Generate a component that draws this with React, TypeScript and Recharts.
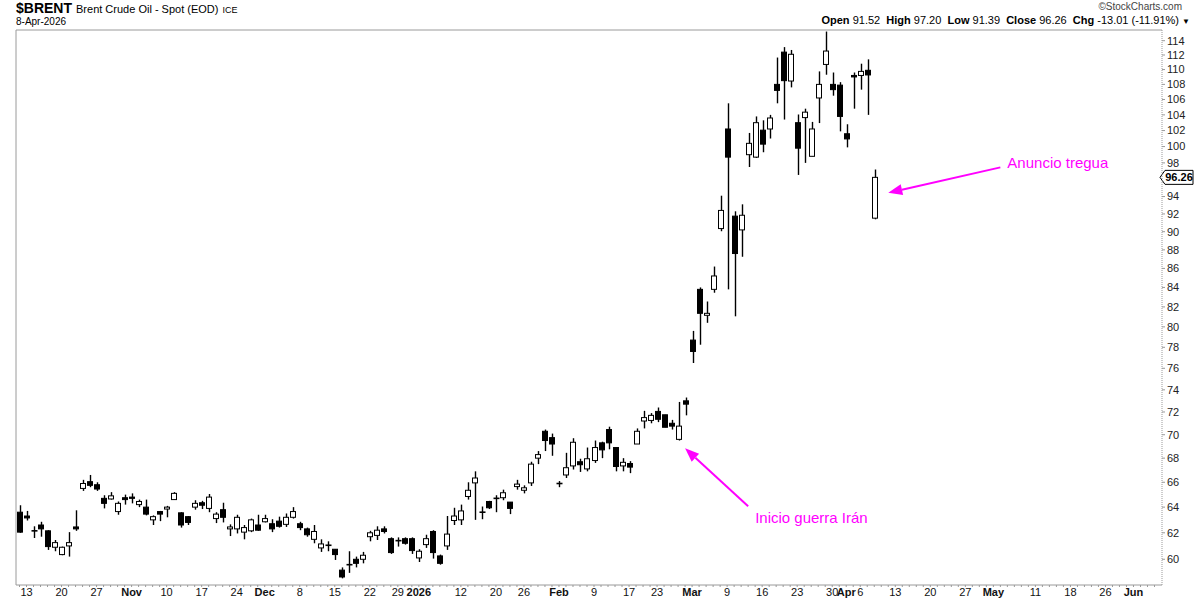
import React from 'react';
import { ComposedChart, Bar, XAxis, YAxis, ReferenceLine } from 'recharts';

// ---------- dias de pregão (eixo X) ----------
const FIRST_DAY = '2025-10-10';
const LAST_DAY = '2026-06-04';
const HOLIDAYS = ['2025-11-27', '2025-12-25', '2026-01-01', '2026-01-19', '2026-02-16', '2026-04-03', '2026-05-25'];

// ---------- OHLC diário (10-Oct-2025 .. 8-Apr-2026) ----------
const OPEN = [
  63.6, 63.3, 62.15, 62.6, 62.15, 60.9, 60.35, 61.0, 62.45, 65.5, 66.05, 65.8, 64.7, 64.65, 63.65, 64.75,
  64.8, 64.2, 64.0, 63.0, 63.65, 63.85, 64.6, 63.55, 63.25, 64.0, 64.35, 63.9, 63.1, 63.8, 62.3, 62.3, 62.05, 62.15, 62.6,
  62.85, 62.7, 62.9, 62.65, 63.2, 62.7, 62.3, 61.5, 60.85, 61.05, 60.75, 59.2, 59.6, 60.0, 60.0, 61.7, 61.8, 62.3, 61.55, 61.4, 61.55, 61.55,
  60.1, 61.1, 62.1, 60.25, 61.0, 62.95, 63.0, 64.85, 65.95, 63.6, 64.45, 64.7, 64.75, 64.4, 65.65, 65.35, 65.95, 68.0, 70.3, 69.75,
  65.9, 66.6, 67.35, 67.7, 67.1, 67.8, 69.3, 70.45, 68.9, 67.35, 67.55, 69.2, 71.2, 71.25, 72.05, 71.75, 71.0, 69.6, 73.0,
  78.7, 83.8, 81.15, 83.8, 90.35, 102.2, 91.75, 90.2, 99.0, 98.7, 102.05, 102.2, 108.0, 112.4, 108.45, 103.0, 103.65, 98.8, 106.2, 110.7, 108.0, 107.9,
  101.6, 109.2, 109.2, 109.9, 91.52,
];
const HIGH = [
  64.15, 63.7, 62.5, 62.85, 62.2, 61.45, 60.95, 62.05, 63.75, 66.2, 66.6, 66.0, 64.95, 65.2, 64.45, 65.0,
  65.1, 64.6, 64.6, 63.35, 63.7, 64.1, 65.2, 63.6, 63.3, 64.55, 64.5, 65.05, 63.6, 64.35, 62.65, 63.4, 62.6, 63.1, 63.4,
  63.4, 63.05, 63.25, 63.5, 64.0, 62.85, 62.4, 62.6, 61.5, 61.35, 60.75, 59.4, 60.6, 60.2, 60.55, 62.15, 62.5, 62.5, 61.65, 61.65, 61.65, 61.65,
  60.75, 61.85, 62.2, 60.35, 63.3, 63.95, 64.2, 66.0, 66.9, 64.05, 64.5, 64.95, 65.4, 64.4, 66.2, 65.75, 67.7, 68.6, 70.45, 70.1,
  66.1, 68.45, 69.7, 67.95, 68.9, 69.5, 69.4, 70.7, 68.9, 68.0, 67.75, 70.55, 72.1, 71.9, 72.4, 71.75, 71.3, 72.9, 73.3,
  79.6, 84.0, 82.55, 86.2, 94.1, 105.5, 92.3, 93.1, 101.7, 103.8, 103.3, 104.0, 111.65, 113.1, 112.7, 104.05, 104.8, 103.1, 109.75, 115.3, 109.6, 108.3,
  102.8, 109.6, 110.8, 111.4, 97.2,
];
const LOW = [
  62.0, 62.95, 61.6, 61.7, 60.7, 60.6, 60.3, 60.2, 62.15, 65.3, 65.6, 65.3, 63.9, 64.6, 63.4, 64.2,
  64.3, 64.0, 63.35, 62.6, 62.9, 63.2, 64.6, 62.4, 62.6, 63.8, 63.85, 63.6, 62.75, 62.8, 61.75, 61.95, 61.5, 62.05, 62.15,
  62.8, 62.05, 62.4, 62.45, 63.1, 62.2, 61.7, 61.2, 60.55, 60.6, 59.95, 58.6, 59.0, 59.4, 59.7, 61.35, 61.45, 61.95, 60.4, 60.95, 61.1, 60.4,
  59.8, 60.85, 60.05, 59.6, 60.7, 62.6, 62.6, 64.6, 63.0, 63.05, 63.85, 63.6, 64.55, 63.45, 65.4, 65.1, 65.7, 67.5, 68.6, 68.2,
  65.6, 66.35, 67.05, 66.85, 66.9, 67.6, 68.0, 68.75, 66.9, 66.9, 66.75, 69.2, 70.55, 71.0, 71.1, 70.65, 70.45, 69.5, 71.7,
  76.5, 78.25, 80.4, 83.45, 90.05, 83.8, 81.05, 87.25, 97.5, 98.6, 99.3, 101.0, 105.5, 103.4, 107.6, 96.55, 98.0, 98.8, 102.95, 109.3, 106.5, 101.9,
  99.9, 104.8, 107.3, 104.0, 91.39,
];
const CLOSE = [
  62.05, 63.15, 62.15, 62.3, 60.95, 61.25, 60.9, 61.25, 62.3, 65.9, 65.75, 65.45, 64.3, 64.9, 64.3, 64.6,
  64.7, 64.45, 63.45, 63.25, 63.45, 64.0, 65.1, 62.6, 62.8, 64.3, 64.15, 64.8, 63.45, 63.2, 62.45, 63.2, 62.4, 63.0, 62.2,
  63.1, 62.3, 62.5, 63.2, 63.65, 62.4, 61.85, 62.1, 61.15, 61.05, 60.35, 58.7, 59.6, 59.7, 60.3, 62.0, 62.2, 62.1, 60.5, 61.4, 61.2, 60.65,
  60.6, 61.55, 60.5, 59.7, 61.9, 63.3, 63.7, 65.35, 66.35, 63.6, 63.95, 64.7, 65.15, 63.9, 65.85, 65.55, 67.5, 68.3, 69.5, 69.2,
  65.9, 67.2, 69.35, 67.45, 67.95, 68.9, 68.7, 69.3, 67.3, 67.65, 67.25, 70.3, 71.5, 71.7, 71.35, 70.65, 70.75, 70.75, 72.7,
  77.6, 81.35, 81.35, 85.2, 92.4, 98.7, 87.6, 91.85, 100.4, 103.0, 100.3, 103.6, 107.2, 108.5, 112.1, 99.8, 104.35, 102.2, 108.0, 112.55, 107.3, 103.8,
  100.95, 109.0, 109.75, 109.27, 96.26,
];

// ---------- rótulos do eixo X ----------
const TICK_DATES = [
  '2025-10-13', '2025-10-20', '2025-10-27', '2025-11-03', '2025-11-10', '2025-11-17', '2025-11-24', '2025-12-01',
  '2025-12-08', '2025-12-15', '2025-12-22', '2025-12-29', '2026-01-02', '2026-01-12', '2026-01-20', '2026-01-26',
  '2026-02-02', '2026-02-09', '2026-02-17', '2026-02-23', '2026-03-02', '2026-03-09', '2026-03-16', '2026-03-23',
  '2026-03-30', '2026-04-01', '2026-04-06', '2026-04-13', '2026-04-20', '2026-04-27', '2026-05-01', '2026-05-11',
  '2026-05-18', '2026-05-26', '2026-06-01',
];
const TICK_LABELS = [
  '13', '20', '27', 'Nov', '10', '17', '24', 'Dec', '8', '15', '22', '29', '2026', '12', '20', '26',
  'Feb', '9', '17', '23', 'Mar', '9', '16', '23', '30', 'Apr', '6', '13', '20', '27', 'May', '11',
  '18', '26', 'Jun',
];
const BOLD_LABELS = ['Nov', 'Dec', '2026', 'Feb', 'Mar', 'Apr', 'May', 'Jun'];

// ---------- eixo Y (log) ----------
const Y_TICKS = [60, 62, 64, 66, 68, 70, 72, 74, 76, 78, 80, 82, 84, 86, 88, 90, 92, 94, 98, 100, 102, 104, 106, 108, 110, 112, 114];
const Y_DOMAIN = [58.12, 115.52];
const LAST_PRICE = 96.26;

// ---------- anotações (setas) ----------
const NOTE_TEXTS = ['Anuncio tregua', 'Inicio guerra Irán'];
const NOTE_FROM_DATES = ['2026-05-04', '2026-03-12'];
const NOTE_FROM_PRICES = [97.46, 64.07];
const NOTE_TO_DATES = ['2026-04-10', '2026-02-27'];
const NOTE_TO_PRICES = [94.44, 68.84];

const FONT = '"Liberation Sans", Arial, sans-serif';
const MAGENTA = '#ff00ff';
const FRAME = '#9a9a9a';

function tradingDays(first: string, last: string, holidays: string[]): string[] {
  const out: string[] = [];
  const d = new Date(first + 'T00:00:00Z');
  const end = new Date(last + 'T00:00:00Z');
  while (d <= end) {
    const wd = d.getUTCDay();
    const iso = d.toISOString().slice(0, 10);
    if (wd !== 0 && wd !== 6 && !holidays.includes(iso)) out.push(iso);
    d.setUTCDate(d.getUTCDate() + 1);
  }
  return out;
}

const DATES = tradingDays(FIRST_DAY, LAST_DAY, HOLIDAYS);

const data = DATES.map((date, i) =>
  i < OPEN.length
    ? { date, open: OPEN[i], high: HIGH[i], low: LOW[i], close: CLOSE[i], range: [LOW[i], HIGH[i]] }
    : { date, range: null }
);

// candle: Bar com range [low, high]; open/close interpolados na escala log do próprio bar
const Candle = (props: any) => {
  const { x, y, width, height, payload } = props;
  if (!payload || payload.open == null || !isFinite(y) || !isFinite(height)) return null;
  const { open, high, low, close } = payload;
  const top = Math.min(y, y + height);
  const bot = Math.max(y, y + height);
  const lh = Math.log(high);
  const ll = Math.log(low);
  const toY = (v: number) => (lh === ll ? top : top + ((bot - top) * (lh - Math.log(v))) / (lh - ll));
  const cx = Math.round(x + width / 2) + 0.5;
  const yo = toY(open);
  const yc = toY(close);
  const bTop = Math.min(yo, yc);
  const bBot = Math.max(yo, yc);
  const up = close >= open;
  return (
    <g>
      <line x1={cx} x2={cx} y1={top} y2={bot} stroke="#000" strokeWidth={1.4} />
      {bBot - bTop < 1.2 ? (
        <line x1={cx - 3} x2={cx + 3} y1={yo} y2={yo} stroke="#000" strokeWidth={1.6} />
      ) : (
        <rect x={cx - 3} y={bTop} width={5} height={bBot - bTop} fill={up ? '#fff' : '#000'} stroke="#000" strokeWidth={1} />
      )}
    </g>
  );
};

const DateTick = (props: any) => {
  const { x, y, payload } = props;
  const k = TICK_DATES.indexOf(payload.value);
  if (k < 0) return null;
  const label = TICK_LABELS[k];
  const bold = BOLD_LABELS.includes(label);
  return (
    <text x={x} y={y + 7} textAnchor="middle" fontSize={11} fontFamily={FONT} fontWeight={bold ? 'bold' : 'normal'} fill="#111">
      {label}
    </text>
  );
};

const PriceTag = (props: any) => {
  const vb = props.viewBox;
  if (!vb) return null;
  const xr = vb.x + vb.width;
  const yy = vb.y;
  return (
    <g>
      <path d={`M${xr - 2},${yy} L${xr + 3},${yy - 7} H${xr + 31} V${yy + 7} H${xr + 3} Z`} fill="#fff" stroke="#000" strokeWidth={1} />
      <text x={xr + 17} y={yy + 4} textAnchor="middle" fontSize={11} fontWeight="bold" fontFamily={FONT} fill="#000">
        {LAST_PRICE.toFixed(2)}
      </text>
    </g>
  );
};

const TEXT_OFFSETS = [
  [7, 1],
  [7, 17],
];

const arrowShape = (k: number) => (p: any) => {
  const { x1, y1, x2, y2 } = p;
  const ang = Math.atan2(y2 - y1, x2 - x1);
  const len = 14;
  const half = 5.5;
  const bx = x2 - len * Math.cos(ang);
  const by = y2 - len * Math.sin(ang);
  const px = -Math.sin(ang) * half;
  const py = Math.cos(ang) * half;
  return (
    <g>
      <line x1={x1} y1={y1} x2={bx} y2={by} stroke={MAGENTA} strokeWidth={2} />
      <polygon points={`${x2},${y2} ${bx + px},${by + py} ${bx - px},${by - py}`} fill={MAGENTA} />
      <text x={x1 + TEXT_OFFSETS[k][0]} y={y1 + TEXT_OFFSETS[k][1]} fill={MAGENTA} fontSize={15} fontFamily={FONT}>
        {NOTE_TEXTS[k]}
      </text>
    </g>
  );
};

export default function App() {
  return (
    <div style={{ position: 'relative', width: 1200, height: 600, background: '#fff', fontFamily: FONT, color: '#000' }}>
      <style>{'body{margin:0;}'}</style>
      <ComposedChart
        width={1200}
        height={600}
        data={data}
        margin={{ top: 29, right: 0, bottom: 0, left: 15 }}
        barCategoryGap={0}
      >
        <XAxis
          xAxisId="main"
          dataKey="date"
          interval={0}
          height={15}
          padding={{ left: 0, right: 4 }}
          tick={<DateTick />}
          tickSize={2}
          tickLine={{ stroke: FRAME }}
          axisLine={{ stroke: FRAME }}
        />
        <XAxis xAxisId="top" orientation="top" dataKey="date" height={1} tick={false} tickLine={false} axisLine={{ stroke: FRAME }} />
        <YAxis
          yAxisId="price"
          orientation="right"
          scale="log"
          domain={Y_DOMAIN}
          allowDataOverflow
          ticks={Y_TICKS}
          interval={0}
          width={38}
          tickSize={3}
          tick={{ fontSize: 11, fill: '#222', fontFamily: FONT }}
          tickLine={{ stroke: FRAME }}
          axisLine={{ stroke: FRAME, strokeDasharray: '1 1' }}
        />
        <YAxis yAxisId="left" orientation="left" width={1} domain={[0, 1]} tick={false} tickLine={false} axisLine={{ stroke: FRAME }} />
        <Bar
          xAxisId="main"
          yAxisId="price"
          dataKey="range"
          barSize={6}
          shape={Candle}
          isAnimationActive={false}
        />
        <ReferenceLine xAxisId="main" yAxisId="price" y={LAST_PRICE} stroke="none" label={(p: any) => <PriceTag {...p} />} />
        {NOTE_TEXTS.map((t, k) => (
          <ReferenceLine
            key={t}
            xAxisId="main"
            yAxisId="price"
            segment={[
              { x: NOTE_FROM_DATES[k], y: NOTE_FROM_PRICES[k] },
              { x: NOTE_TO_DATES[k], y: NOTE_TO_PRICES[k] },
            ]}
            shape={arrowShape(k)}
          />
        ))}
      </ComposedChart>

      {/* cabeçalho estilo StockCharts */}
      <div style={{ position: 'absolute', left: 16, top: 1, whiteSpace: 'nowrap', lineHeight: '14px' }}>
        <span style={{ fontSize: 14, fontWeight: 'bold' }}>$BRENT</span>
        <span style={{ fontSize: 11, marginLeft: 4 }}>Brent Crude Oil - Spot (EOD)</span>
        <span style={{ fontSize: 9, marginLeft: 4 }}>ICE</span>
      </div>
      <div style={{ position: 'absolute', left: 16, top: 16, fontSize: 10, lineHeight: '12px' }}>8-Apr-2026</div>
      <div style={{ position: 'absolute', right: 18, top: 1, fontSize: 10, color: '#444', lineHeight: '12px' }}>
        ©StockCharts.com
      </div>
      <div style={{ position: 'absolute', right: 10, top: 14, fontSize: 11, lineHeight: '13px', whiteSpace: 'nowrap' }}>
        <b>Open</b> 91.52&nbsp; <b>High</b> 97.20&nbsp; <b>Low</b> 91.39&nbsp; <b>Close</b> 96.26&nbsp; <b>Chg</b> -13.01 (-11.91%){' '}
        <span style={{ fontSize: 8 }}>▼</span>
      </div>
    </div>
  );
}
